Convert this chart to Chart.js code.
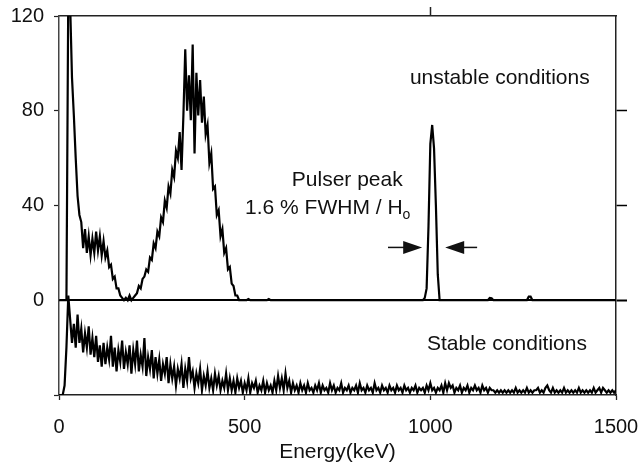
<!DOCTYPE html>
<html>
<head>
<meta charset="utf-8">
<script src="https://cdn.jsdelivr.net/npm/chart.js@4.4.1/dist/chart.umd.min.js"></script>
<style>
  html, body { margin: 0; padding: 0; background: #fff; }
  canvas { display: block; }
</style>
</head>
<body>
<canvas id="spectrum" width="641" height="470"></canvas>
<script>
// spectrum channels: 5 keV wide, first channel at 0 keV
var binKeV = 5;
// upper trace: unstable conditions (counts, 0..1500 keV)
var unstable = [
  0,0,0,0,0,130,125,94,78,60,44,36,33,22,30,20,27,19,26,20,
  29,21,27,19,25,18,21,14,15,9,10,5,5,2,1,0,1,0,2,0,
  1,2,3,6,5,9,10,13,12,18,17,24,22,29,27,35,33,42,39,48,
  45,55,52,63,60,71,55,78,106,80,95,76,108,62,96,78,93,75,86,70,
  74,58,62,47,48,36,38,27,30,20,22,13,14,7,6,2,2,0,0,0,
  0,0,0.5,0,0,0,0,0,0,0,0,0,0,0.5,0,0,0,0,0,0,
  0,0,0,0,0,0,0,0,0,0,0,0,0,0,0,0,0,0,0,0,
  0,0,0,0,0,0,0,0,0,0,0,0,0,0,0,0,0,0,0,0,
  0,0,0,0,0,0,0,0,0,0,0,0,0,0,0,0,0,0,0,0,
  0,0,0,0,0,0,0,0,0,0,0,0,0,0,0,0,0,1,5,31,
  66,74,64,40,11,0,0,0,0,0,0,0,0,0,0,0,0,0,0,0,
  0,0,0,0,0,0,0,0,0,0,0,0,1,0.8,0,0,0,0,0,0,
  0,0,0,0,0,0,0,0,0,0,0,0,0,1.5,1.5,0,0,0,0,0,
  0,0,0,0,0,0,0,0,0,0,0,0,0,0,0,0,0,0,0,0,
  0,0,0,0,0,0,0,0,0,0,0,0,0,0,0,0,0,0,0,0,
  0
];
// lower trace: stable conditions (drawn offset below the zero line)
var stable = [
  -40,-40,-40,-36,-20,2,-8,-18,-10,-20,-6,-18,-12,-22,-14,-20,-11,-23,-16,-24,
  -15,-26,-19,-28,-18,-27,-20,-25,-15,-28,-20,-30,-21,-26,-17,-29,-22,-27,-19,-31,
  -21,-27,-17,-30,-23,-28,-16,-32,-24,-29,-21,-33,-24,-31,-25,-34,-27,-31,-24,-35,
  -27,-33,-28,-36,-29,-33,-27,-37,-29,-34,-24,-33,-30,-37,-31,-35,-29,-38,-32,-36,
  -30,-37,-33,-38,-31,-36,-32,-38,-34,-37,-31,-38,-33,-38,-34,-39,-33,-37,-34,-39,
  -35,-38,-33,-39,-35,-37,-34,-39,-36,-38,-34,-39,-35,-38,-36,-39,-34,-38,-32,-37,
  -33,-38,-31,-37,-34,-39,-35,-38,-36,-39,-35,-38,-36,-39,-35,-38,-37,-39,-36,-38,
  -35,-39,-36,-38,-37,-39,-35,-38,-36,-39,-37,-38,-35,-39,-37,-38,-36,-39,-37,-38,
  -36,-39,-35,-38,-37,-39,-36,-38,-37,-39,-35,-38,-37,-39,-36,-38,-37,-39,-36,-38,
  -37,-39,-36,-38,-37,-39,-36,-38,-37,-39,-37,-38,-36,-39,-37,-38,-37,-39,-36,-38,
  -35,-38,-37,-39,-37,-38,-36,-39,-35,-38,-35,-37,-36,-39,-37,-38,-36,-39,-37,-38,
  -36,-39,-37,-38,-36,-38,-37,-39,-36,-38,-37,-39,-37,-38,-38,-39,-38,-39,-38,-39,
  -38,-39,-38,-39,-38,-39,-37,-39,-38,-39,-38,-39,-37,-39,-38,-39,-38,-38,-37,-39,
  -38,-39,-37,-36,-38,-39,-37,-39,-38,-39,-38,-39,-37,-39,-38,-39,-38,-39,-38,-39,
  -37,-39,-38,-39,-38,-39,-38,-39,-37,-39,-38,-37,-39,-37,-38,-39,-38,-39,-38,-39,
  -38
];
var xTicks = [0, 500, 1000, 1500];
var yTicks = [0, 40, 80, 120];
var rightTicks = [0, 40, 80];
var topTicks = [1000];

var FONT = '"Liberation Sans", Arial, sans-serif';
var INK = '#222';

function toPoints(counts) {
  return counts.map(function (c, i) { return { x: i * binKeV, y: c }; });
}

// fixed axis boxes so the plot area sits where the original's does
function boxSize(w, h) {
  return function (s) {
    if (w !== null) s.width = w;
    if (h !== null) s.height = h;
    s.paddingLeft = 0; s.paddingRight = 0;
    s.paddingTop = 0; s.paddingBottom = 0;
  };
}

// text labels and FWHM arrows, anchored in data units
var notes = {
  id: 'notes',
  afterDraw: function (chart) {
    var ctx = chart.ctx, sx = chart.scales.x, sy = chart.scales.y;
    function px(v) { return sx.getPixelForValue(v); }
    function py(v) { return sy.getPixelForValue(v); }
    ctx.save();
    ctx.fillStyle = '#111';
    ctx.textBaseline = 'alphabetic';
    ctx.textAlign = 'left';
    ctx.font = '21px ' + FONT;
    ctx.fillText('unstable conditions', px(945), py(91.4));
    ctx.fillText('Pulser peak', px(627), py(48.4));
    var t = '1.6 % FWHM / H';
    ctx.fillText(t, px(501), py(36.6));
    var w = ctx.measureText(t).width;
    ctx.font = '14px ' + FONT;
    ctx.fillText('o', px(501) + w, py(36.6) + 5);
    ctx.font = '21px ' + FONT;
    ctx.fillText('Stable conditions', px(991), py(-21));

    function arrow(fromKeV, tipKeV, val) {
      var x0 = px(fromKeV), x1 = px(tipKeV), y = py(val);
      var dir = x1 > x0 ? 1 : -1;
      ctx.strokeStyle = '#111';
      ctx.lineWidth = 1.5;
      ctx.beginPath();
      ctx.moveTo(x0, y);
      ctx.lineTo(x1 - dir * 16, y);
      ctx.stroke();
      ctx.beginPath();
      ctx.moveTo(x1, y);
      ctx.lineTo(x1 - dir * 19, y - 6.5);
      ctx.lineTo(x1 - dir * 19, y + 6.5);
      ctx.closePath();
      ctx.fill();
    }
    arrow(886, 978, 22.3);
    arrow(1126, 1040, 22.3);
    ctx.restore();
  }
};

function has(list, v) { return list.indexOf(v) >= 0; }

new Chart(document.getElementById('spectrum'), {
  type: 'line',
  data: {
    datasets: [
      {
        label: 'Stable conditions',
        data: toPoints(stable),
        borderColor: '#000',
        borderWidth: 2.2,
        pointRadius: 0,
        tension: 0,
        xAxisID: 'x',
        yAxisID: 'y'
      },
      {
        label: 'unstable conditions',
        data: toPoints(unstable),
        borderColor: '#000',
        borderWidth: 2.2,
        pointRadius: 0,
        tension: 0,
        xAxisID: 'x',
        yAxisID: 'y'
      }
    ]
  },
  options: {
    responsive: false,
    animation: false,
    layout: { padding: 0 },
    plugins: {
      legend: { display: false },
      tooltip: { enabled: false }
    },
    scales: {
      x: {
        type: 'linear',
        position: 'bottom',
        min: 0, max: 1500,
        afterBuildTicks: function (s) { s.ticks = xTicks.map(function (v) { return { value: v }; }); },
        afterFit: boxSize(null, 75),
        ticks: {
          font: { family: FONT, size: 20 }, color: '#111', padding: 15, maxRotation: 0,
          callback: function (v) { return String(v); }
        },
        grid: { drawOnChartArea: false, tickLength: 5, tickColor: INK, tickWidth: 1.3 },
        border: { color: INK, width: 1.5 },
        title: { display: true, text: 'Energy(keV)', font: { family: FONT, size: 21 }, color: '#111', padding: { top: 0, bottom: 5 } }
      },
      x2: {
        type: 'linear',
        position: 'top',
        min: 0, max: 1500,
        afterBuildTicks: function (s) { s.ticks = xTicks.map(function (v) { return { value: v }; }); },
        afterFit: boxSize(null, 16),
        ticks: { display: false },
        grid: {
          drawOnChartArea: false, tickLength: 9, tickWidth: 1.5,
          tickColor: function (c) { return has(topTicks, c.tick.value) ? INK : 'rgba(0,0,0,0)'; }
        },
        border: { color: INK, width: 1.5 }
      },
      y: {
        type: 'linear',
        position: 'left',
        min: -40, max: 120,
        afterBuildTicks: function (s) { s.ticks = [-40, 0, 40, 80, 120].map(function (v) { return { value: v }; }); },
        afterFit: boxSize(59, null),
        ticks: {
          font: { family: FONT, size: 20 }, color: '#111', padding: 10,
          callback: function (v) { return has(yTicks, v) ? String(v) : ''; }
        },
        grid: {
          tickLength: 5,
          color: function (c) { return c.tick && c.tick.value === 0 ? '#000' : 'rgba(0,0,0,0)'; },
          lineWidth: function (c) { return c.tick && c.tick.value === 0 ? 2 : 1; },
          tickColor: function (c) { return c.tick && c.tick.value === 0 ? 'rgba(0,0,0,0)' : INK; },
          tickWidth: 1.2
        },
        border: { color: '#444', width: 1.5 }
      },
      y2: {
        type: 'linear',
        position: 'right',
        min: -40, max: 120,
        afterBuildTicks: function (s) { s.ticks = [-40, 0, 40, 80, 120].map(function (v) { return { value: v }; }); },
        afterFit: boxSize(25, null),
        ticks: { display: false },
        grid: {
          drawOnChartArea: false, tickLength: 11,
          tickColor: function (c) { return has(rightTicks, c.tick.value) ? '#000' : 'rgba(0,0,0,0)'; },
          tickWidth: function (c) { return c.tick.value === 0 ? 2 : 1.5; }
        },
        border: { color: INK, width: 1.5 }
      }
    }
  },
  plugins: [notes]
});
</script>
</body>
</html>
